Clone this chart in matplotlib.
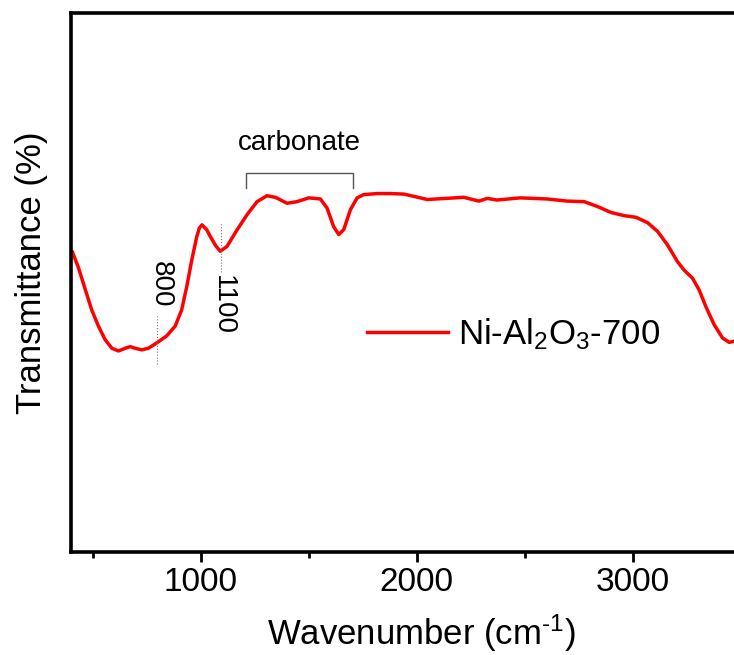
import matplotlib
matplotlib.use('Agg')
import matplotlib.pyplot as plt
from matplotlib.ticker import MultipleLocator

plt.rcParams['font.family'] = ['Liberation Sans', 'DejaVu Sans']
plt.rcParams['mathtext.default'] = 'regular'

# FTIR spectrum
wavenumber = [407, 435, 466, 496, 527, 558, 589, 620, 651, 674, 697, 727, 758,
              797, 843, 882, 912, 936, 959, 982, 994, 1006, 1028, 1045, 1070,
              1091, 1122, 1169, 1215, 1261, 1307, 1346, 1400, 1446, 1500, 1554,
              1585, 1615, 1639, 1662, 1693, 1724, 1754, 1816, 1878, 1941, 2049,
              2218, 2288, 2326, 2372, 2479, 2603, 2696, 2775, 2836, 2898, 2960,
              3014, 3068, 3114, 3160, 3206, 3237, 3276, 3307, 3338, 3376, 3415,
              3446, 3469]
transmittance = [55.6, 52.7, 48.7, 44.9, 41.9, 39.4, 37.8, 37.3, 37.8, 38.1,
                 37.8, 37.5, 37.8, 38.8, 40.1, 41.9, 44.9, 49.3, 54.2, 58.5,
                 60.1, 60.7, 59.8, 58.5, 56.8, 55.8, 56.7, 59.8, 62.6, 65.0,
                 66.1, 65.8, 64.7, 65.0, 65.7, 65.5, 63.8, 60.4, 58.9, 59.8,
                 63.5, 65.7, 66.3, 66.5, 66.5, 66.4, 65.4, 65.8, 65.1, 65.6,
                 65.3, 65.7, 65.5, 65.1, 65.0, 64.1, 63.0, 62.4, 62.1, 61.1,
                 59.5, 57.0, 53.9, 52.3, 50.8, 48.6, 45.5, 42.2, 39.7, 38.9,
                 39.1]
sample_label = 'Ni-Al$_2$O$_3$-700'

# marked bands
band_pos = [800, 1095]
band_text = ['800', '1100']
band_line_y = [(34.9, 43.8), (52.0, 61.3)]
band_text_xy = [(816, 49.7), (1101, 45.8)]
carbonate_range = (1208, 1703)

fig = plt.figure(figsize=(7.34, 6.55), dpi=100)
ax = fig.add_axes([71 / 734, 1 - 552 / 655, 1 - 71 / 734, (552 - 13) / 655])

ax.plot(wavenumber, transmittance, color='#ff0000', lw=2.5, label=sample_label,
        solid_joinstyle='round')

for x, (y0, y1) in zip(band_pos, band_line_y):
    ax.plot([x, x], [y0, y1], color='#777777', lw=0.8, ls=':')
for txt, (tx, ty) in zip(band_text, band_text_xy):
    ax.text(tx, ty, txt, rotation=-90, fontsize=20, ha='center', va='center')

# carbonate bracket
c0, c1 = carbonate_range
ax.plot([c0, c0, c1, c1], [67.5, 70.4, 70.4, 67.5], color='#555555', lw=1.0)
ax.text((c0 + c1) / 2, 75.9, 'carbonate', fontsize=20, ha='center', va='center')

ax.set_xlim(400, 3468)
ax.set_ylim(0, 100)
ax.set_yticks([])
ax.xaxis.set_major_locator(MultipleLocator(1000))
ax.xaxis.set_minor_locator(MultipleLocator(500))
ax.tick_params(axis='x', which='major', direction='out', length=7, width=2,
               labelsize=24, pad=4)
ax.tick_params(axis='x', which='minor', direction='out', length=4, width=2)
ax.spines['right'].set_visible(False)
for s in ['left', 'top', 'bottom']:
    ax.spines[s].set_linewidth(2.6)

fig.text(421 / 734, 1 - 645 / 655, 'Wavenumber (cm$^{\u20101}$)', fontsize=25,
         ha='center', va='baseline')
fig.text(32 / 734, 1 - 273 / 655, 'Transmittance (%)', fontsize=25,
         rotation=90, ha='center', va='center')

ax.legend(loc='center left', bbox_to_anchor=(367 / 734, 1 - 334 / 655),
          bbox_transform=fig.transFigure, frameon=False, fontsize=25,
          handlelength=2.33, handletextpad=0.3, borderpad=0, borderaxespad=0)

fig.savefig('out.png', dpi=100)
